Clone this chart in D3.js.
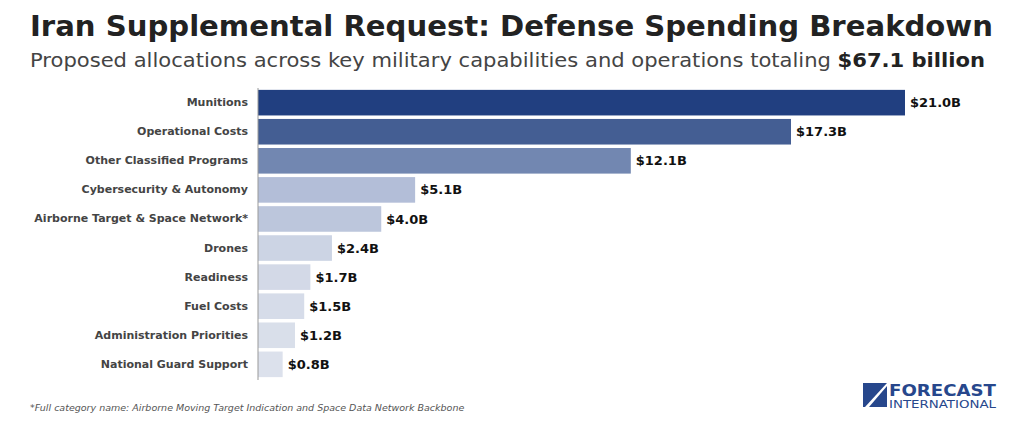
<!DOCTYPE html>
<html lang="en">
<head>
<meta charset="UTF-8">
<title>Iran Supplemental Request</title>
<style>
  body { margin: 0; background: #fff; }
  text { font-family: "DejaVu Sans", "Open Sans", sans-serif; }
</style>
</head>
<body>
<svg width="1024" height="429"></svg>
<script src="https://d3js.org/d3.v7.min.js"></script>
<script>
const categories = ["Munitions", "Operational Costs", "Other Classified Programs", "Cybersecurity & Autonomy",
  "Airborne Target & Space Network*", "Drones", "Readiness", "Fuel Costs", "Administration Priorities", "National Guard Support"];
const values = [21.0, 17.3, 12.1, 5.1, 4.0, 2.4, 1.7, 1.5, 1.2, 0.8];
const colors = ["#213f80", "#445e93", "#7287b1", "#b3bed8", "#bcc6dc", "#ccd4e4", "#d3d9e7", "#d6dce9", "#d9dfea", "#dce1ec"];

const svg = d3.select("svg");

svg.append("text").attr("x", 30).attr("y", 36)
  .attr("font-size", 29).attr("font-weight", 700).attr("fill", "#222")
  .attr("textLength", 963).attr("lengthAdjust", "spacingAndGlyphs")
  .text("Iran Supplemental Request: Defense Spending Breakdown");
const sub = svg.append("text").attr("x", 30).attr("y", 67)
  .attr("font-size", 20).attr("fill", "#444")
  .attr("textLength", 955).attr("lengthAdjust", "spacingAndGlyphs");
sub.append("tspan").text("Proposed allocations across key military capabilities and operations totaling ");
sub.append("tspan").attr("font-weight", 700).attr("fill", "#222").text("$67.1 billion");

const x = d3.scaleLinear().domain([0, 21]).range([258, 905]);
const y = d3.scaleBand().domain(categories).range([89, 378]).paddingInner(0.12).paddingOuter(0.03);

const g = svg.append("g");
g.selectAll("rect").data(values).join("rect")
  .attr("x", x(0)).attr("y", (d, i) => y(categories[i]))
  .attr("width", d => x(d) - x(0)).attr("height", y.bandwidth())
  .attr("fill", (d, i) => colors[i]);

g.selectAll(".val").data(values).join("text")
  .attr("x", d => x(d) + 5).attr("y", (d, i) => y(categories[i]) + y.bandwidth() / 2)
  .attr("dy", "0.35em").attr("font-size", 13).attr("font-weight", 700).attr("fill", "#111")
  .text(d => "$" + d.toFixed(1) + "B");

const yAxis = svg.append("g").attr("transform", `translate(${x(0)},0)`)
  .call(d3.axisLeft(y).tickSize(0).tickPadding(10));
yAxis.select(".domain").attr("stroke", "#999").attr("d", "M0,88V380");
yAxis.selectAll("text").attr("font-size", 11).attr("font-weight", 700).attr("fill", "#444")
  .attr("font-family", "'DejaVu Sans', sans-serif");

svg.append("text").attr("x", 30).attr("y", 411).attr("font-size", 9.5).attr("font-style", "italic")
  .attr("fill", "#555").attr("font-family", "'Open Sans', sans-serif")
  .text("*Full category name: Airborne Moving Target Indication and Space Data Network Backbone");

// logo
const logo = svg.append("g").attr("transform", "translate(863,383)");
logo.append("rect").attr("width", 24).attr("height", 24).attr("fill", "#27478c");
logo.append("path").attr("d", "M24,0 L24,3 L6,24 L2,24 Z").attr("fill", "#fff");
logo.append("text").attr("x", 26).attr("y", 13).attr("font-size", 15).attr("font-weight", 700)
  .attr("fill", "#27478c").attr("textLength", 107).attr("lengthAdjust", "spacingAndGlyphs").text("FORECAST");
logo.append("text").attr("x", 26).attr("y", 25).attr("font-size", 10).attr("fill", "#27478c")
  .attr("textLength", 107).attr("lengthAdjust", "spacingAndGlyphs").text("INTERNATIONAL");
</script>
</body>
</html>
